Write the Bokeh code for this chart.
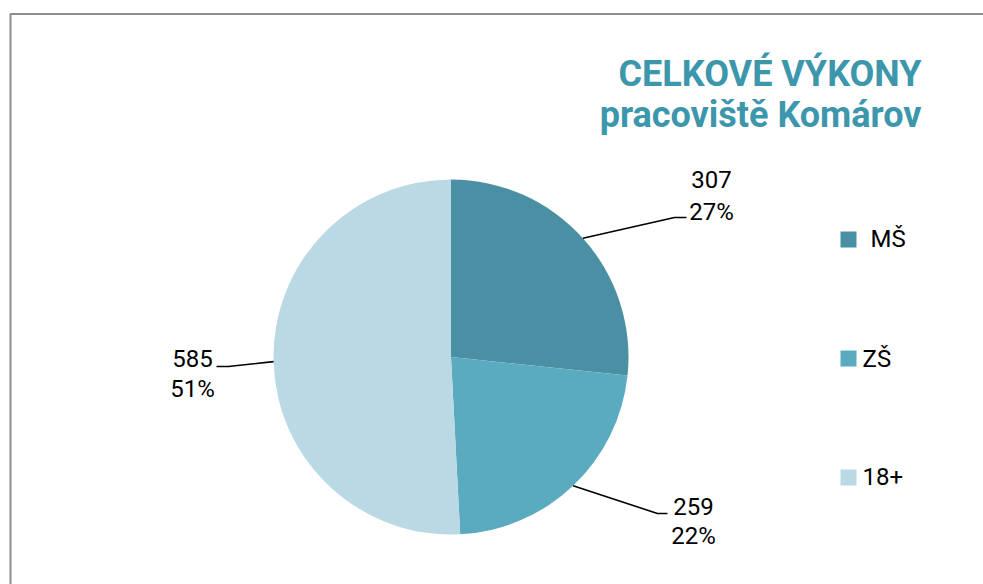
import math
from bokeh.plotting import figure
from bokeh.models import Range1d, ColumnDataSource
from bokeh.core.properties import value
from bokeh.embed import file_html
from bokeh.resources import INLINE

# ---- data ----
categories = ["MŠ", "ZŠ", "18+"]
counts = [307, 259, 585]
percents = ["27%", "22%", "51%"]
colors = ["#4A8FA3", "#5AABC0", "#BAD9E4"]
title_lines = ["CELKOVÉ VÝKONY", "pracoviště Komárov"]

# ---- layout (image pixel coordinates) ----
W, H = 983, 584
def Y(img_y):
    return H - img_y

cx, cy, r = 450.5, Y(356.5), 177.5
label_font = value("Roboto")
lab_shift = 9     # baseline correction for 24px text
title_shift = 12  # baseline correction for 36px text
# leader elbow / end points and label centres per slice
elbows = [(674, 217), (657, 513), (228, 366)]
ends = [(686, 217), (667, 513), (216, 366)]
label_x = [711, 693, 192]
label_base1 = [188, 515, 367]
label_base2 = [220, 544, 397]
legend_sq_top = [231, 350, 469]
legend_text_x = [870, 862, 862]
legend_text_base = [247, 367, 485]

p = figure(width=W, height=H, output_backend="svg", toolbar_location=None,
           x_range=Range1d(0, W), y_range=Range1d(0, H),
           min_border=0)
p.axis.visible = False
p.grid.visible = False
p.outline_line_color = None
p.background_fill_color = "white"
p.border_fill_color = "white"

# frame
p.line(x=[10, 10, 1200], y=[Y(700), Y(13.5), Y(13.5)], line_color="#8C8C8C", line_width=2)

# pie wedges (clockwise from 12 o'clock)
total = sum(counts)
starts, stops, mids = [], [], []
cum = 0.0
for c in counts:
    a0 = math.pi / 2 - 2 * math.pi * (cum + c) / total
    a1 = math.pi / 2 - 2 * math.pi * cum / total
    starts.append(a0)
    stops.append(a1)
    mids.append((a0 + a1) / 2)
    cum += c
src = ColumnDataSource(dict(start=starts, end=stops, color=colors, cat=categories))
p.wedge(x=cx, y=cy, radius=r, start_angle="start", end_angle="end",
        fill_color="color", line_color=None, source=src)

# leader lines and data labels
for i in range(len(categories)):
    sx = cx + r * math.cos(mids[i])
    sy = cy + r * math.sin(mids[i])
    ex, ey = elbows[i]
    fx, fy = ends[i]
    p.line(x=[sx, ex, fx], y=[sy, Y(ey), Y(fy)], line_color="black", line_width=1.6)
    p.text(x=[label_x[i]], y=[Y(label_base1[i] - lab_shift)], text=[str(counts[i])],
           text_align="center", text_baseline="alphabetic",
           text_font=label_font, text_font_size="24px", text_color="black")
    p.text(x=[label_x[i]], y=[Y(label_base2[i] - lab_shift)], text=[percents[i]],
           text_align="center", text_baseline="alphabetic",
           text_font=label_font, text_font_size="24px", text_color="black")

# legend
for i in range(len(categories)):
    top = legend_sq_top[i]
    p.quad(left=[840], right=[856], top=[Y(top)], bottom=[Y(top + 16)],
           fill_color=colors[i], line_color=None)
    p.text(x=[legend_text_x[i]], y=[Y(legend_text_base[i] - lab_shift)], text=[categories[i]],
           text_align="left", text_baseline="alphabetic",
           text_font=label_font, text_font_size="24px", text_color="black")

# title
title_base = [85, 126]
for i, t in enumerate(title_lines):
    p.text(x=[921], y=[Y(title_base[i] - title_shift)], text=[t], text_align="right",
           text_baseline="alphabetic", text_font=value("Roboto"),
           text_font_style="bold", text_font_size="36px", text_color="#3C96AC")

open("out.html", "w").write(file_html(p, INLINE))
